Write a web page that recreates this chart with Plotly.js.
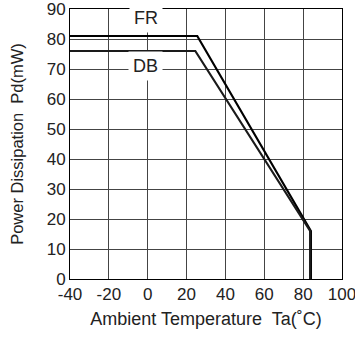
<!DOCTYPE html>
<html>
<head>
<meta charset="utf-8">
<script src="https://cdn.plot.ly/plotly-3.0.1.min.js"></script>
<style>html,body{margin:0;padding:0;background:#fff;overflow:hidden;}#chart{width:355px;height:338px;}</style>
</head>
<body>
<div id="chart"></div>
<script>
// Data
const frTemp = [-40, 25.5, 84, 84];
const frPower = [81, 81, 16, 0];
const dbTemp = [-40, 24.5, 83.6, 83.6];
const dbPower = [76, 76, 16, 0];
const xTicks = [-40, -20, 0, 20, 40, 60, 80, 100];
const yTicks = [0, 10, 20, 30, 40, 50, 60, 70, 80, 90];
const seriesNames = ["FR", "DB"];
const labelPos = [[-1, 87], [-1, 71]];

const fam = "Liberation Sans, Arial, sans-serif";
const txt = "#222";

const traces = [
  {x: frTemp, y: frPower, name: seriesNames[0], mode: "lines", line: {color: "#000", width: 2.2}},
  {x: dbTemp, y: dbPower, name: seriesNames[1], mode: "lines", line: {color: "#1a1a1a", width: 2.2}}
];

const layout = {
  width: 355, height: 338,
  margin: {l: 70, r: 13, t: 9, b: 59},
  paper_bgcolor: "#fff", plot_bgcolor: "#fff",
  showlegend: false,
  font: {size: 14, family: fam, color: txt},
  xaxis: {
    range: [-40, 100], tickvals: xTicks, ticktext: xTicks.map(String),
    showgrid: true, gridcolor: "#444", gridwidth: 1,
    showline: true, linecolor: "#000", linewidth: 1, mirror: true,
    zeroline: false, ticks: "", ticklen: 0,
    ticklabeloverflow: "allow",
    tickfont: {size: 17, family: fam, color: txt},
    title: {text: "Ambient Temperature  Ta(˚C)", font: {size: 18, family: fam, color: txt}, standoff: 8}
  },
  yaxis: {
    range: [0, 90], tickvals: yTicks, ticktext: yTicks.map(String),
    showgrid: true, gridcolor: "#444", gridwidth: 1,
    showline: true, linecolor: "#000", linewidth: 1, mirror: true,
    zeroline: false, ticks: "", ticklen: 0,
    ticklabeloverflow: "allow",
    tickfont: {size: 17, family: fam, color: txt},
    title: {text: "Power Dissipation  Pd(mW)", font: {size: 16.5, family: fam, color: txt}, standoff: 18}
  },
  annotations: seriesNames.map((n, i) => ({
    x: labelPos[i][0], y: labelPos[i][1], xref: "x", yref: "y",
    text: n, showarrow: false, bgcolor: "#fff", borderpad: 4,
    font: {size: 18, family: fam, color: txt}
  }))
};

Plotly.newPlot("chart", traces, layout, {staticPlot: true, displayModeBar: false});
</script>
</body>
</html>
